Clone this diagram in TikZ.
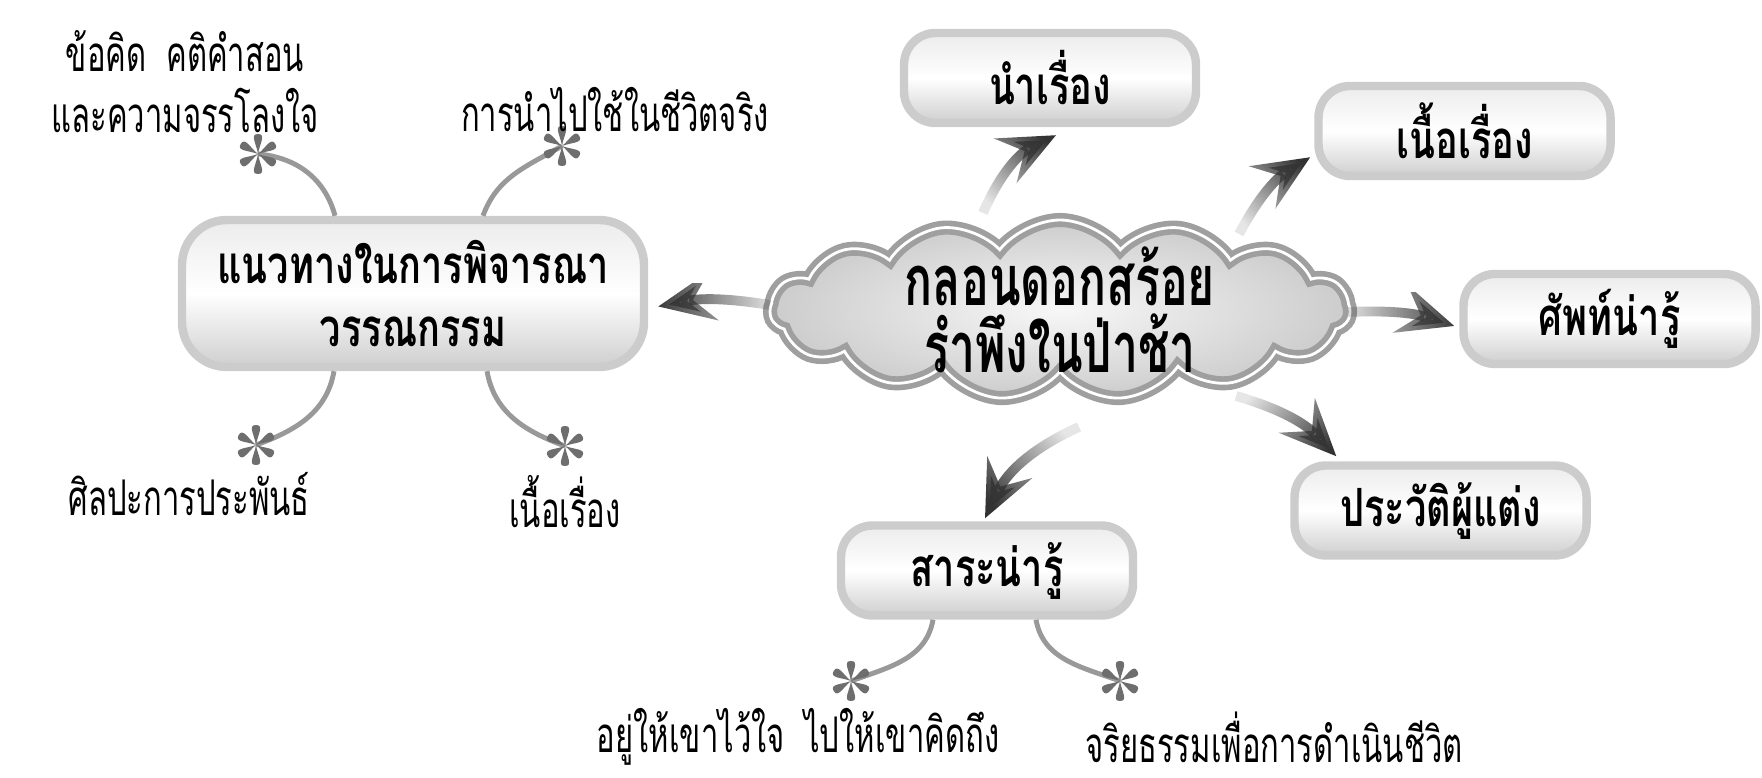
\documentclass[tikz,border=0pt]{standalone}
\usepackage{fontspec}
\usetikzlibrary{arrows.meta,shapes.symbols,fadings}
\newfontfamily\thaifont[Script=Thai,FakeStretch=0.63]{Loma}
\newfontfamily\thaibold[Script=Thai,FakeStretch=0.72]{Loma}
\newfontfamily\thaicloud[Script=Thai,FakeStretch=0.66]{Loma}

\tikzfading[name=tailfade, left color=transparent!88, right color=transparent!0]

\tikzset{
  topic/.style={rectangle, rounded corners=9pt, draw=gray!40, line width=2.4pt,
    top color=gray!15, bottom color=gray!38, middle color=white,
    minimum width=2.92cm, minimum height=0.9cm,
    font=\thaibold\bfseries\fontsize{15}{18}\selectfont},
  tip/.style={-{Stealth[length=16pt,width=14pt,inset=6pt]}},
  flow/.style={tip, line width=2.8pt, black!80, path fading=tailfade, fading angle=#1},
  twig/.style={draw=gray!80, line width=1.4pt},
  note/.style={inner sep=1pt, font=\thaifont\fontsize{14}{16}\selectfont},
  petals/.pic={
    \foreach \a in {30,90,...,330}
      \fill[black!57, rotate=\a] (0,0) .. controls (0.1,0.015) and (0.2,0.085) .. (0.2,0)
        .. controls (0.2,-0.085) and (0.1,-0.015) .. (0,0);
  }
}

\begin{document}
\begin{tikzpicture}
    \useasboundingbox (0,0) rectangle (17.62,7.77);

    % Centre
    \node[cloud, cloud puffs=15, cloud puff arc=105, cloud ignores aspect,
      minimum width=5.8cm, minimum height=1.8cm, inner sep=0pt,
      draw=gray!75, double=white, double distance=0.8pt, line width=1.6pt,
      inner color=gray!6, outer color=gray!40] (poem) at (10.60,4.67) {};
    \node[align=center, font=\thaicloud\bfseries\fontsize{20}{19}\selectfont]
      (title) at (poem.center) {กลอนดอกสร้อย\\รำพึงในป่าช้า};

    % Topics
    \node[topic, rounded corners=0.45cm, minimum width=4.62cm, minimum height=1.47cm,
      align=center] (guide) at (4.13,4.835) {แนวทางในการพิจารณา\\วรรณกรรม};
    \node[topic] (intro) at (10.50,6.99) {นำเรื่อง};
    \node[topic] (story) at (14.645,6.46) {เนื้อเรื่อง};
    \node[topic] (vocab) at (16.095,4.58) {ศัพท์น่ารู้};
    \node[topic] (author) at (14.405,2.665) {ประวัติผู้แต่ง};
    \node[topic] (essence) at (9.87,2.065) {สาระน่ารู้};

    % Arrows
    \draw[flow=180] ([shift={(-2.90,0.05)}]poem.center) to[bend right=10] ([shift={(0.10,-0.13)}]guide.east);
    \draw[flow=47] ([shift={(-0.77,0.97)}]poem.center) to[bend left=20] ([shift={(0.06,-0.08)}]intro.south);
    \draw[flow=47] ([shift={(1.79,0.76)}]poem.center) to[bend left=15] ([shift={(-0.04,0.23)}]story.south west);
    \draw[flow=0] ([shift={(2.88,-0.02)}]poem.center) to[bend left=10] ([shift={(-0.05,-0.07)}]vocab.west);
    \draw[flow=-30] ([shift={(1.76,-0.86)}]poem.center) to[bend left=15] ([shift={(0.46,0.05)}]author.north west);
    \draw[flow=-136] ([shift={(0.19,-1.17)}]poem.center) to[bend right=20] ([shift={(-0.02,0.03)}]essence.north);

    % Twigs
    \coordinate (s1) at (2.58,6.23);
    \coordinate (s2) at (5.62,6.31);
    \coordinate (s3) at (2.56,3.32);
    \coordinate (s4) at (5.65,3.31);
    \coordinate (s5) at (8.51,0.96);
    \coordinate (s6) at (11.20,0.96);
    \draw[twig] ([xshift=-7.8mm]guide.north) to[out=105,in=-5] (s1);
    \draw[twig] ([xshift=7.0mm]guide.north) to[out=70,in=210] (s2);
    \draw[twig] ([xshift=-7.9mm]guide.south) to[out=-100,in=20] (s3);
    \draw[twig] ([xshift=7.4mm]guide.south) to[out=-80,in=160] (s4);
    \draw[twig] ([xshift=-5.4mm]essence.south) to[out=-100,in=20] (s5);
    \draw[twig] ([xshift=4.9mm]essence.south) to[out=-80,in=160] (s6);
    \foreach \s in {s1,s2,s3,s4,s5,s6}
      \pic at (\s) {petals};

    % Notes
    \node[note] (n1) at (1.85,7.26) {ข้อคิด\hspace{0.4em}คติคำสอน};
    \node[note] (n2) at (1.85,6.67) {และความจรรโลงใจ};
    \node[note] (n3) at (6.15,6.67) {การนำไปใช้ในชีวิตจริง};
    \node[note] (n4) at (1.89,2.83) {ศิลปะการประพันธ์};
    \node[note] (n5) at (5.65,2.75) {เนื้อเรื่อง};
    \node[note] (n6) at (7.98,0.40) {อยู่ให้เขาไว้ใจ\hspace{0.4em}ไปให้เขาคิดถึง};
    \node[note] (n7) at (12.74,0.40) {จริยธรรมเพื่อการดำเนินชีวิต};
\end{tikzpicture}
\end{document}
